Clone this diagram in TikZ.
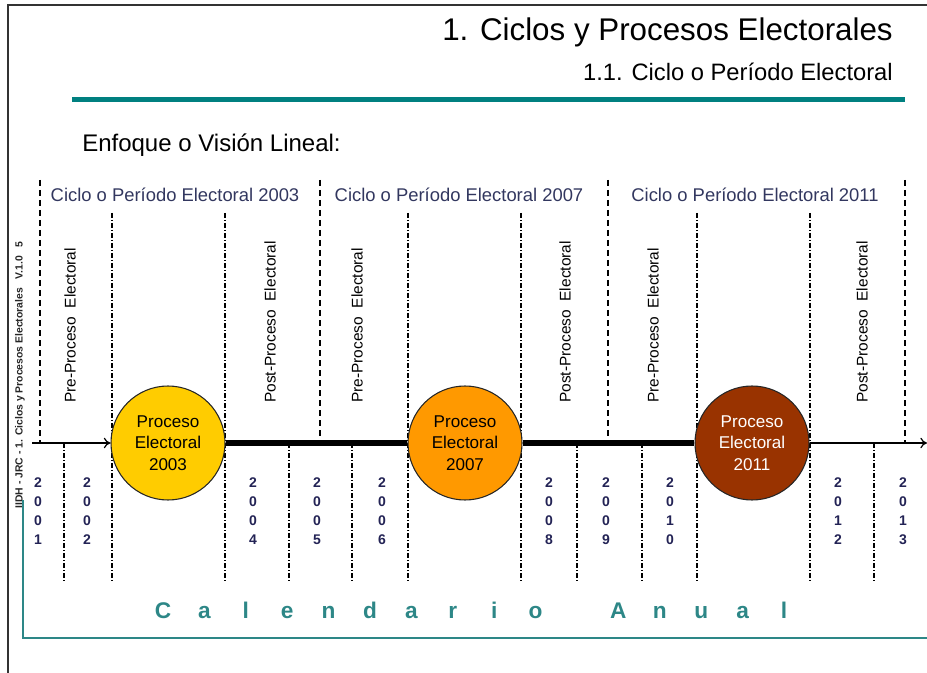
\documentclass[tikz,border=0pt]{standalone}
\usepackage{fontspec}
\setmainfont{Liberation Sans}
\usetikzlibrary{arrows.meta}
\definecolor{tealbar}{RGB}{0,128,128}
\definecolor{calteal}{RGB}{45,135,135}
\definecolor{procgold}{RGB}{255,204,0}
\definecolor{procorange}{RGB}{255,153,0}
\definecolor{procbrown}{RGB}{153,51,0}
\definecolor{cyclelab}{RGB}{50,55,95}
\definecolor{yearlab}{RGB}{35,35,85}
\newcommand\yeardigits[4]{#1\\#2\\#3\\#4}
\begin{document}
\begin{tikzpicture}[x=0.75pt,y=-0.75pt,
    proc/.style={shape=circle,draw=black!85,line width=0.8pt,minimum size=85.5pt,inner sep=0pt,
                 align=center,font=\fontsize{12.8}{16}\selectfont},
    phase/.style={rotate=90,anchor=west,inner sep=0pt,font=\fontsize{11.6}{13}\selectfont},
    cyclab/.style={text=cyclelab,font=\fontsize{13.8}{15}\selectfont},
    yearnum/.style={text=yearlab,align=center,font=\fontsize{10.5}{14.2}\selectfont\bfseries},
    callet/.style={text=calteal,anchor=base,font=\fontsize{17}{19}\selectfont\bfseries},
    cyclesep/.style={line width=1.1pt,dash pattern=on 4.5pt off 3pt},
    yearsep/.style={line width=0.8pt,dash pattern=on 3.75pt off 1.5pt on 0.75pt off 1.5pt}]
  \useasboundingbox (0,0) rectangle (927,673);
  % frame and header
  \draw[black!80,line width=1.2pt] (8,673) -- (8,5) -- (927,5);
  \path (893,32) node[anchor=east,inner sep=0pt,font=\fontsize{23.5}{26}\selectfont] (title) {1. Ciclos y Procesos Electorales}
        (893,72) node[anchor=east,inner sep=0pt,font=\fontsize{17.8}{20}\selectfont] (subtitle) {1.1. Ciclo o Período Electoral}
        (82,145) node[anchor=west,inner sep=0pt,font=\fontsize{18}{20}\selectfont] (enfoque) {Enfoque o Visión Lineal:};
  \coordinate (barL) at (72,100);
  \coordinate (barR) at (905,100);
  \draw[tealbar,line width=3.75pt] (barL) -- (barR);
  \node[rotate=90,font=\fontsize{7.8}{9}\selectfont\bfseries,text=black!85] (footer) at (20,375)
    {IIDH - JRC - 1. Ciclos y Procesos Electorales \ \ V.1.0 \ \ 5};
  % separators
  \foreach \sx in {40,320,608,905}
    \draw[cyclesep] (\sx,180) -- (\sx,443);
  \foreach \sx in {112,225,408,521,697,810}
    \draw[yearsep] (\sx,213) -- (\sx,583);
  \foreach \sx in {64,289,352,577,642,874}
    \draw[yearsep] (\sx,443) -- (\sx,583);
  % cycles
  \path (175,195) node[cyclab] (c2003) {Ciclo o Período Electoral 2003}
        (459,195) node[cyclab] (c2007) {Ciclo o Período Electoral 2007}
        (755,195) node[cyclab] (c2011) {Ciclo o Período Electoral 2011};
  \foreach \px/\qx/\n in {70/270/1,357/565/2,653/862/3} {
    \node[phase] (pre\n) at (\px,403) {Pre-Proceso \ Electoral};
    \node[phase] (post\n) at (\qx,403) {Post-Proceso \ Electoral};
  }
  % timeline
  \coordinate (start) at (32,443);
  \coordinate (finish) at (927,443);
  \path (168,443) node[proc,fill=procgold] (p2003) {Proceso\\Electoral\\2003}
        (465,443) node[proc,fill=procorange] (p2007) {Proceso\\Electoral\\2007}
        (752,443) node[proc,fill=procbrown,text=white] (p2011) {Proceso\\Electoral\\2011};
  \draw[-{To[length=5pt,width=8pt]},line width=0.9pt] (start) -- (p2003);
  \draw[line width=5pt] (p2003) -- (p2007) (p2007) -- (p2011);
  \draw[-{To[length=5pt,width=8pt]},line width=0.9pt] (p2011) -- (finish);
  % years
  \foreach \yx/\yr in {38/2001,87/2002,253/2004,317/2005,382/2006,549/2008,606/2009,670/2010,838/2012,903/2013}
    \node[yearnum] (y\yr) at (\yx,511) {\expandafter\yeardigits\yr};
  % calendario anual
  \draw[calteal,line width=1.5pt] (23,500) -- (23,638) -- (927,638);
  \foreach \ch/\k in {C/0,a/1,l/2,e/3,n/4,d/5,a/6,r/7,i/8,o/9,A/11,n/12,u/13,a/14,l/15}
    \node[callet] (cal\k) at (163+\k*41.4,618) {\ch};
\end{tikzpicture}
\end{document}
